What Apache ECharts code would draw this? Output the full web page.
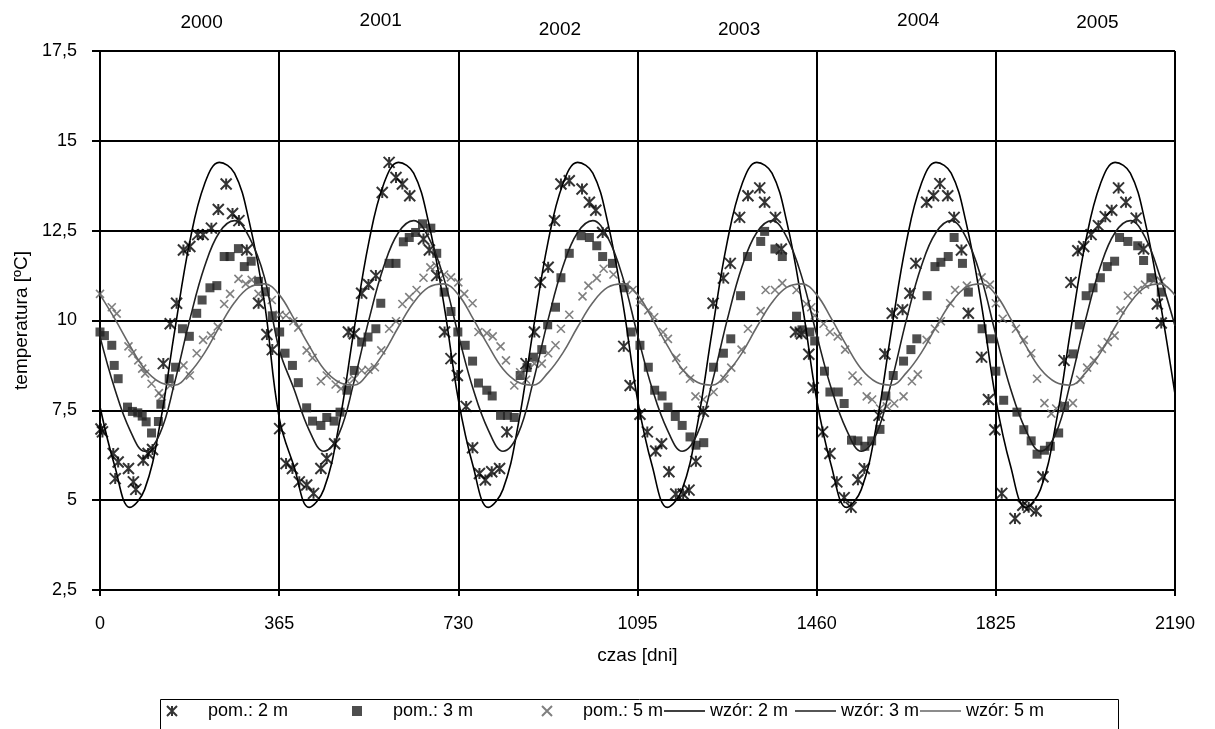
<!DOCTYPE html>
<html>
<head>
<meta charset="utf-8">
<script src="https://cdn.jsdelivr.net/npm/echarts@6/dist/echarts.min.js"></script>
<style>
  html, body { margin: 0; padding: 0; background: #fff; }
  #chart { width: 1215px; height: 729px; }
</style>
</head>
<body>
<div id="chart"></div>
<script>
  // lata nad wykresem
  var years = ['2000', '2001', '2002', '2003', '2004', '2005'];

  // pomiary: [dzien, temperatura]
  var pom2m = [
    [2, 6.98], [5, 6.9], [27, 6.3], [31, 5.6], [37, 6.06], [58, 5.88], [68, 5.51], [73, 5.3], [88, 6.11], [98, 6.3],
    [107, 6.41], [129, 8.8], [143, 9.91], [156, 10.48], [170, 11.96], [183, 12.06], [199, 12.39], [210, 12.39],
    [227, 12.57], [241, 13.09], [257, 13.8], [270, 12.98], [283, 12.78], [299, 11.96], [323, 10.48], [340, 9.61], [351, 9.19],
    [366, 6.99], [379, 6.02], [392, 5.88], [406, 5.51], [421, 5.42], [435, 5.19], [450, 5.88], [462, 6.16], [478, 6.57],
    [506, 9.68], [518, 9.63], [533, 10.76], [547, 11.0], [562, 11.25], [575, 13.56], [589, 14.4], [603, 13.98], [616, 13.8],
    [631, 13.47], [659, 12.27], [671, 11.96], [686, 11.25], [702, 9.68], [715, 8.94], [728, 8.47],
    [746, 7.61], [759, 6.46], [773, 5.74], [785, 5.56], [798, 5.79], [814, 5.88], [829, 6.9], [868, 8.8], [885, 9.68],
    [897, 11.06], [913, 11.48], [926, 12.78], [939, 13.8], [956, 13.89], [982, 13.66], [997, 13.29], [1010, 13.07],
    [1024, 12.45], [1067, 9.28], [1080, 8.19],
    [1100, 7.39], [1115, 6.9], [1132, 6.37], [1144, 6.57], [1159, 5.79], [1173, 5.17], [1188, 5.17], [1200, 5.28],
    [1214, 6.08], [1229, 7.47], [1249, 10.48], [1270, 11.18], [1284, 11.59], [1303, 12.87], [1320, 13.47], [1344, 13.69],
    [1354, 13.29], [1376, 12.87], [1388, 11.99], [1417, 9.68], [1429, 9.63], [1444, 9.06], [1453, 8.13],
    [1472, 6.9], [1487, 6.3], [1501, 5.51], [1516, 5.07], [1530, 4.8], [1544, 5.57], [1557, 5.88], [1587, 7.36],
    [1599, 9.07], [1614, 10.2], [1635, 10.3], [1650, 10.76], [1662, 11.59], [1684, 13.29], [1698, 13.47], [1711, 13.81],
    [1727, 13.47], [1740, 12.87], [1755, 11.96], [1769, 10.2], [1796, 8.98], [1810, 7.8], [1823, 6.96],
    [1837, 5.19], [1864, 4.49], [1880, 4.86], [1892, 4.8], [1907, 4.7], [1921, 5.65], [1964, 8.89], [1978, 11.06],
    [1992, 11.94], [2004, 12.06], [2019, 12.39], [2034, 12.64], [2048, 12.89], [2061, 13.07], [2075, 13.69], [2090, 13.29],
    [2111, 12.85], [2126, 11.99], [2154, 10.46], [2162, 9.93]
  ];

  var pom3m = [
    [0, 9.68], [9, 9.58], [24, 9.31], [29, 8.75], [37, 8.38], [56, 7.59], [66, 7.47], [77, 7.43], [86, 7.34], [94, 7.18],
    [105, 6.87], [119, 7.19], [124, 7.67], [141, 8.38], [154, 8.7], [168, 9.77], [182, 9.56], [197, 10.2], [208, 10.57],
    [224, 10.91], [238, 10.97], [253, 11.78], [265, 11.78], [282, 12.0], [294, 11.5], [308, 11.65], [323, 11.09], [337, 10.8], [351, 10.13],
    [366, 9.68], [377, 9.09], [392, 8.75], [404, 8.27], [421, 7.57], [433, 7.2], [450, 7.08], [462, 7.3], [477, 7.2], [489, 7.45],
    [503, 8.06], [518, 8.61], [533, 9.4], [546, 9.54], [562, 9.77], [572, 10.48], [589, 11.59], [603, 11.59], [618, 12.19],
    [630, 12.31], [643, 12.45], [657, 12.69], [674, 12.57], [686, 11.87], [701, 10.79], [715, 10.25],
    [729, 9.68], [744, 9.31], [759, 8.87], [771, 8.26], [788, 8.06], [799, 7.9], [816, 7.36], [830, 7.36], [844, 7.3],
    [856, 8.47], [870, 8.69], [883, 8.98], [900, 9.19], [912, 9.88], [928, 10.37], [939, 11.19], [956, 11.87], [980, 12.36],
    [997, 12.31], [1012, 12.08], [1024, 11.78], [1044, 11.59], [1068, 10.91], [1082, 9.68],
    [1100, 9.31], [1117, 8.7], [1130, 8.06], [1145, 7.9], [1157, 7.59], [1172, 7.33], [1186, 7.08], [1202, 6.76], [1214, 6.53],
    [1230, 6.6], [1250, 8.7], [1270, 9.09], [1285, 9.49], [1305, 10.69], [1319, 11.78], [1346, 12.2], [1354, 12.48],
    [1375, 11.99], [1390, 11.78], [1419, 10.12], [1430, 9.74], [1446, 9.68], [1456, 9.43],
    [1476, 8.59], [1487, 8.01], [1504, 8.01], [1516, 7.69], [1531, 6.67], [1544, 6.65], [1558, 6.5], [1572, 6.65],
    [1589, 6.97], [1601, 7.9], [1616, 8.47], [1637, 8.87], [1652, 9.19], [1664, 9.49], [1685, 10.69], [1701, 11.5],
    [1713, 11.62], [1728, 11.78], [1740, 12.31], [1757, 11.59], [1769, 10.79], [1797, 9.77], [1814, 9.49], [1825, 8.59],
    [1841, 7.78], [1868, 7.45], [1882, 6.96], [1897, 6.65], [1909, 6.28], [1924, 6.39], [1936, 6.5], [1953, 6.87],
    [1965, 7.61], [1982, 9.07], [1995, 9.88], [2009, 10.69], [2023, 10.91], [2038, 11.19], [2052, 11.5], [2067, 11.65],
    [2077, 12.31], [2094, 12.2], [2114, 12.08], [2126, 11.67], [2141, 11.19], [2162, 10.79]
  ];

  var pom5m = [
    [0, 10.74], [24, 10.37], [34, 10.19], [58, 9.28], [66, 9.09], [78, 8.89], [86, 8.66], [92, 8.52], [105, 8.24],
    [120, 7.98], [126, 7.89], [143, 8.19], [170, 8.75], [183, 8.47], [197, 9.09], [210, 9.46], [226, 9.58], [240, 9.83],
    [253, 10.46], [265, 10.74], [282, 11.16], [297, 11.02], [309, 11.13], [323, 10.74], [336, 10.81], [350, 10.57],
    [366, 10.16], [379, 10.14], [394, 9.98], [404, 9.8], [421, 9.17], [433, 8.96], [450, 8.31], [462, 8.47], [480, 8.22],
    [491, 8.1], [504, 8.31], [518, 8.38], [533, 8.61], [547, 8.63], [560, 8.7], [573, 9.17], [589, 9.77], [603, 9.98],
    [616, 10.46], [630, 10.65], [645, 10.85], [659, 11.19], [673, 11.48], [685, 11.53], [701, 11.28], [715, 11.2], [730, 11.06],
    [742, 10.74], [759, 10.48], [771, 9.68], [788, 9.65], [800, 9.56], [816, 9.28], [827, 8.89], [844, 8.19], [856, 8.56],
    [868, 8.35], [885, 8.8], [900, 8.8], [913, 9.09], [928, 9.31], [939, 9.77], [956, 10.16], [983, 10.67], [995, 10.97],
    [1012, 11.18], [1026, 11.44], [1046, 11.28], [1072, 10.99], [1085, 10.85],
    [1100, 10.51], [1117, 10.28], [1129, 10.09], [1147, 9.68], [1157, 9.49], [1174, 8.96], [1188, 8.61], [1202, 8.38],
    [1213, 7.89], [1229, 7.8], [1250, 8.01], [1272, 8.38], [1286, 8.69], [1307, 9.19], [1320, 9.77], [1346, 10.26],
    [1356, 10.85], [1375, 10.85], [1390, 11.04], [1419, 10.85], [1439, 10.46], [1449, 10.37], [1456, 10.14],
    [1474, 9.91], [1487, 9.68], [1503, 9.56], [1518, 9.19], [1533, 8.47], [1544, 8.31], [1562, 7.89], [1573, 7.8],
    [1589, 7.55], [1603, 7.61], [1618, 7.69], [1637, 7.89], [1654, 8.31], [1666, 8.5], [1684, 9.46], [1701, 9.77],
    [1713, 9.98], [1732, 10.48], [1742, 10.85], [1766, 10.97], [1796, 11.2], [1813, 11.0], [1825, 10.48],
    [1839, 10.05], [1866, 9.77], [1882, 9.46], [1897, 9.09], [1909, 8.38], [1924, 7.7], [1938, 7.41], [1948, 7.55],
    [1965, 7.64], [1982, 7.7], [1997, 8.35], [2011, 8.69], [2025, 8.89], [2041, 9.21], [2053, 9.4], [2067, 9.58],
    [2079, 10.28], [2094, 10.69], [2114, 10.85], [2129, 11.0], [2147, 11.11], [2162, 11.09]
  ];

  // krzywe wzoru, odczytane co miesiac
  var wzorDays = [
    0, 30, 61, 91, 122, 152, 183, 213, 243, 274, 304, 335,
    365, 395, 426, 456, 487, 517, 548, 578, 608, 639, 669, 700,
    730, 760, 791, 821, 852, 882, 913, 943, 973, 1004, 1034, 1065,
    1095, 1125, 1156, 1186, 1217, 1247, 1278, 1308, 1338, 1369, 1399, 1430,
    1460, 1490, 1521, 1551, 1582, 1612, 1643, 1673, 1703, 1734, 1764, 1795,
    1825, 1855, 1886, 1916, 1947, 1977, 2008, 2038, 2068, 2099, 2129, 2160,
    2190
  ];
  var wzor2m = [
    7.6, 5.95, 4.8, 5.3, 7.1, 9.7, 12.2, 13.8, 14.4, 14.1, 12.75, 10.5,
    7.3, 5.95, 4.8, 5.3, 7.1, 9.7, 12.2, 13.8, 14.4, 14.1, 12.75, 10.5,
    7.8, 5.95, 4.8, 5.3, 7.1, 9.7, 12.2, 13.8, 14.4, 14.1, 12.75, 10.5,
    7.8, 5.95, 4.8, 5.3, 7.1, 9.7, 12.2, 13.8, 14.4, 14.1, 12.75, 10.5,
    7.8, 5.95, 4.8, 5.3, 7.1, 9.7, 12.2, 13.8, 14.4, 14.1, 12.75, 10.5,
    7.8, 5.95, 4.8, 5.3, 7.1, 9.7, 12.2, 13.8, 14.4, 14.1, 12.75, 10.5,
    7.95
  ];
  var wzor3m = [
    9.55, 8.1, 6.95, 6.36, 6.85, 8.27, 10.03, 11.5, 12.45, 12.78, 12.32, 11.2,
    9.2, 8.1, 6.95, 6.36, 6.85, 8.27, 10.03, 11.5, 12.45, 12.78, 12.32, 11.2,
    9.6, 8.1, 6.95, 6.36, 6.85, 8.27, 10.03, 11.5, 12.45, 12.78, 12.32, 11.2,
    9.6, 8.1, 6.95, 6.36, 6.85, 8.27, 10.03, 11.5, 12.45, 12.78, 12.32, 11.2,
    9.6, 8.1, 6.95, 6.36, 6.85, 8.27, 10.03, 11.5, 12.45, 12.78, 12.32, 11.2,
    9.6, 8.1, 6.95, 6.36, 6.85, 8.27, 10.03, 11.5, 12.45, 12.78, 12.32, 11.2,
    9.85
  ];
  var wzor5m = [
    10.72, 10.05, 9.3, 8.65, 8.28, 8.2, 8.55, 9.1, 9.82, 10.5, 10.92, 11.02,
    10.72, 10.05, 9.3, 8.65, 8.28, 8.2, 8.55, 9.1, 9.82, 10.5, 10.92, 11.02,
    10.72, 10.05, 9.3, 8.65, 8.28, 8.2, 8.55, 9.1, 9.82, 10.5, 10.92, 11.02,
    10.72, 10.05, 9.3, 8.65, 8.28, 8.2, 8.55, 9.1, 9.82, 10.5, 10.92, 11.02,
    10.72, 10.05, 9.3, 8.65, 8.28, 8.2, 8.55, 9.1, 9.82, 10.5, 10.92, 11.02,
    10.72, 10.05, 9.3, 8.65, 8.28, 8.2, 8.55, 9.1, 9.82, 10.5, 10.92, 11.02,
    10.7
  ];

  function pairs(xs, ys) {
    var out = [];
    for (var i = 0; i < xs.length; i++) out.push([xs[i], ys[i]]);
    return out;
  }

  var FONT = 'Liberation Sans';
  var ASTERISK = 'path://M0,0L10,10M10,0L0,10M5,0L5,10';
  var CROSS = 'path://M0,0L10,10M10,0L0,10';

  // jedna legenda na pozycje; przy punktach tekst odsuniety od znacznika
  function legendItem(name, left, isLine) {
    return {
      data: [isLine ? { name: name, icon: 'rect' } : name],
      left: left, top: 702, padding: 0, selectedMode: false,
      itemWidth: isLine ? 41 : 10, itemHeight: isLine ? 1.6 : 10,
      textStyle: {
        fontFamily: FONT, fontSize: 18, color: '#000',
        padding: isLine ? [0, 0, 0, 0] : [0, 0, 0, 26]
      }
    };
  }

  // lata lekko przesuniete w prawo i w pionie, jak w oryginale
  var yearRich = {};
  var yearLift = [7, 9, 0, 0, 9, 7];
  for (var k = 0; k < years.length; k++) {
    yearRich['y' + k] = {
      fontFamily: FONT, fontSize: 19, color: '#000',
      padding: [0, 0, yearLift[k], 24]
    };
  }

  var myChart = echarts.init(document.getElementById('chart'));
  var option = {
    backgroundColor: '#fff',
    animation: false,
    grid: { left: 100, right: 40, top: 51, bottom: 139 },
    legend: [
      legendItem('pom.: 2 m', 166, false),
      legendItem('pom.: 3 m', 352, false),
      legendItem('pom.: 5 m', 541, false),
      legendItem('wzór: 2 m', 664, true),
      legendItem('wzór: 3 m', 795, true),
      legendItem('wzór: 5 m', 920, true)
    ],
    graphic: [{
      type: 'rect', left: 158, top: 697, shape: { width: 958, height: 60 },
      style: { fill: 'none', stroke: '#000', lineWidth: 1 }
    }],
    xAxis: [{
      type: 'value', min: 0, max: 2190, interval: 365,
      name: 'czas [dni]', nameLocation: 'middle', nameGap: 56,
      nameTextStyle: { fontFamily: FONT, fontSize: 19, color: '#000' },
      axisLine: { lineStyle: { color: '#000', width: 2 } },
      axisTick: { show: true, length: 6, lineStyle: { color: '#000', width: 2 } },
      axisLabel: {
        fontFamily: FONT, fontSize: 18, color: '#000', margin: 25,
        formatter: function (v) { return String(v); }
      },
      splitLine: { show: true, lineStyle: { color: '#000', width: 2 } }
    }, {
      type: 'category', position: 'top', data: years,
      axisLine: { show: false }, axisTick: { show: false },
      axisLabel: {
        margin: 12, rich: yearRich,
        formatter: function (v, i) { return '{y' + i + '|' + v + '}'; }
      },
      splitLine: { show: false }
    }],
    yAxis: {
      type: 'value', min: 2.5, max: 17.5, interval: 2.5,
      name: 'temperatura [ºC]', nameLocation: 'middle', nameGap: 67,
      nameTextStyle: { fontFamily: FONT, fontSize: 19, color: '#000' },
      axisLine: { show: true, lineStyle: { color: '#000', width: 2 } },
      axisTick: { show: true, length: 8, lineStyle: { color: '#000', width: 2 } },
      axisLabel: {
        fontFamily: FONT, fontSize: 18, color: '#000', margin: 23,
        formatter: function (v) { return String(v).replace('.', ','); }
      },
      splitLine: { show: true, lineStyle: { color: '#000', width: 2 } }
    },
    series: [
      {
        name: 'pom.: 2 m', type: 'scatter', data: pom2m, symbol: ASTERISK, symbolSize: 11,
        itemStyle: { color: '#000', borderColor: '#000', borderWidth: 2 }
      },
      {
        name: 'pom.: 3 m', type: 'scatter', data: pom3m, symbol: 'rect', symbolSize: 9,
        itemStyle: { color: '#222' }
      },
      {
        name: 'pom.: 5 m', type: 'scatter', data: pom5m, symbol: CROSS, symbolSize: 8,
        itemStyle: { color: '#5f5f5f', borderColor: '#5f5f5f', borderWidth: 1.6 }
      },
      {
        name: 'wzór: 2 m', type: 'line', data: pairs(wzorDays, wzor2m), smooth: 0.4, symbol: 'none',
        lineStyle: { color: '#000', width: 1.6 }, itemStyle: { color: '#000' }
      },
      {
        name: 'wzór: 3 m', type: 'line', data: pairs(wzorDays, wzor3m), smooth: 0.4, symbol: 'none',
        lineStyle: { color: '#1e1e1e', width: 1.6 }, itemStyle: { color: '#1e1e1e' }
      },
      {
        name: 'wzór: 5 m', type: 'line', data: pairs(wzorDays, wzor5m), smooth: 0.4, symbol: 'none',
        lineStyle: { color: '#666', width: 1.6 }, itemStyle: { color: '#666' }
      }
    ]
  };
  myChart.setOption(option);
</script>
</body>
</html>
